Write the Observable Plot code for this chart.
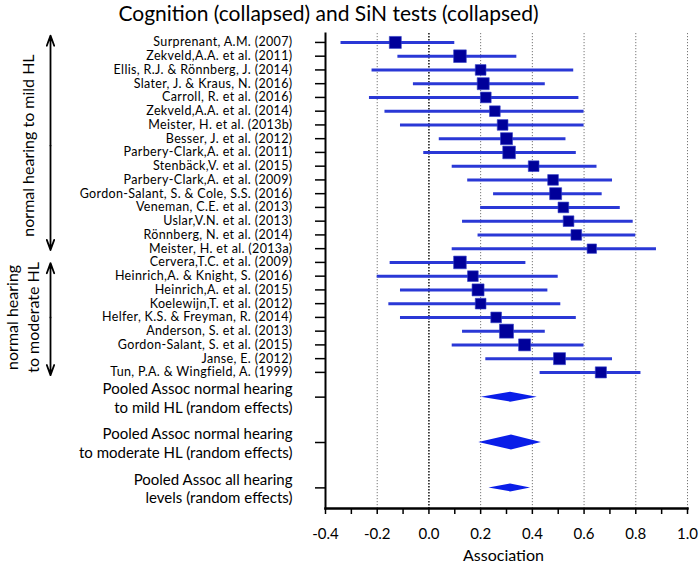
<!DOCTYPE html>
<html>
<head>
<meta charset="utf-8">
<script src="https://cdn.jsdelivr.net/npm/d3@7"></script>
<script src="https://cdn.jsdelivr.net/npm/@observablehq/plot@0.6"></script>
<style>
  html, body { margin: 0; padding: 0; background: #fff; }
  #chart svg { display: block; }
</style>
</head>
<body>
<div id="chart"></div>
<script>
// ---- data ----
const title = "Cognition (collapsed) and SiN tests (collapsed)";
const studies = [
  "Surprenant, A.M. (2007)",
  "Zekveld,A.A. et al. (2011)",
  "Ellis, R.J. & Rönnberg, J. (2014)",
  "Slater, J. & Kraus, N. (2016)",
  "Carroll, R. et al. (2016)",
  "Zekveld,A.A. et al. (2014)",
  "Meister, H. et al. (2013b)",
  "Besser, J. et al. (2012)",
  "Parbery-Clark,A. et al. (2011)",
  "Stenbäck,V. et al. (2015)",
  "Parbery-Clark,A. et al. (2009)",
  "Gordon-Salant, S. & Cole, S.S. (2016)",
  "Veneman, C.E. et al. (2013)",
  "Uslar,V.N. et al. (2013)",
  "Rönnberg, N. et al. (2014)",
  "Meister, H. et al. (2013a)",
  "Cervera,T.C. et al. (2009)",
  "Heinrich,A. & Knight, S. (2016)",
  "Heinrich,A. et al. (2015)",
  "Koelewijn,T. et al. (2012)",
  "Helfer, K.S. & Freyman, R. (2014)",
  "Anderson, S. et al. (2013)",
  "Gordon-Salant, S. et al. (2015)",
  "Janse, E. (2012)",
  "Tun, P.A. & Wingfield, A. (1999)"
];
const estimates = [-0.13, 0.12, 0.20, 0.21, 0.22, 0.255, 0.285, 0.30, 0.31, 0.405, 0.48, 0.49, 0.52, 0.54, 0.57, 0.63,
                   0.12, 0.17, 0.19, 0.20, 0.26, 0.30, 0.37, 0.505, 0.665];
const lower =     [-0.34, -0.12, -0.22, -0.06, -0.23, -0.17, -0.11, 0.04, -0.02, 0.09, 0.15, 0.25, 0.20, 0.13, 0.19, 0.09,
                   -0.15, -0.20, -0.11, -0.155, -0.11, 0.13, 0.09, 0.22, 0.43];
const upper =     [0.10, 0.34, 0.56, 0.45, 0.58, 0.60, 0.60, 0.53, 0.57, 0.65, 0.71, 0.67, 0.74, 0.79, 0.80, 0.88,
                   0.375, 0.50, 0.46, 0.51, 0.57, 0.45, 0.60, 0.71, 0.82];
const weights =   [4.4, 4.9, 3.5, 4.4, 3.5, 3.5, 3.5, 4.4, 4.9, 3.5, 3.5, 4.4, 3.5, 3.5, 3.5, 2.7,
                   4.9, 3.5, 4.4, 3.5, 3.5, 6.0, 4.4, 4.4, 3.8];
const groupLabels = ["normal hearing to mild HL", "normal hearing\nto moderate HL"];
const groupSizes = [16, 9];
const pooledLabels = [
  "Pooled Assoc normal hearing\nto mild HL (random effects)",
  "Pooled Assoc normal hearing\nto moderate HL (random effects)",
  "Pooled Assoc all hearing\nlevels (random effects)"
];
const pooledEst = [0.316, 0.319, 0.316];
const pooledLo = [0.202, 0.193, 0.232];
const pooledHi = [0.419, 0.435, 0.393];
const xTicks = [-0.4, -0.3, -0.2, -0.1, 0.0, 0.1, 0.2, 0.3, 0.4, 0.5, 0.6, 0.7, 0.8, 0.9, 1.0];
const xLabel = "Association";

// ---- layout ----
const W = 699, H = 564;
const mt = 33, mb = 56, ml = 325, mr = 12;
const yDomain = [-0.65, 33.9];
const pxPerRow = (H - mt - mb) / (yDomain[1] - yDomain[0]);
const pooledStart = 25.8, pooledGap = 3.3;
const diamondHalfPx = [5, 7.5, 4];
const groupTextDx = [-297, -303.5];
const xMin = -0.4;

const rows = studies.map((s, i) => ({label: s, y: i, est: estimates[i], lo: lower[i], hi: upper[i], w: weights[i]}));
const pooled = pooledLabels.map((s, k) => ({label: s, y: pooledStart + pooledGap * k, est: pooledEst[k], lo: pooledLo[k], hi: pooledHi[k], hh: diamondHalfPx[k] / pxPerRow, k}));
const diamondPts = pooled.flatMap(p => [
  {k: p.k, x: p.lo, y1: p.y, y2: p.y},
  {k: p.k, x: p.est, y1: p.y - p.hh, y2: p.y + p.hh},
  {k: p.k, x: p.hi, y1: p.y, y2: p.y}
]);
let start = 0;
const groups = groupLabels.map((g, j) => {
  const first = start, last = start + groupSizes[j] - 1;
  start += groupSizes[j];
  const pad = j === 0 ? [-0.5, 0.1] : [0.05, 0.2];
  return {label: g, mid: (first + last) / 2, from: first + pad[0], to: last + pad[1], j};
});
const arrows = groups.flatMap(g => [
  {y1: g.mid, y2: g.from},
  {y1: g.mid, y2: g.to}
]);
const labelByY = new Map(rows.map(r => [r.y, r.label]));
const pooledByY = new Map(pooled.map(p => [p.y, p.label]));

const chart = Plot.plot({
  width: W, height: H,
  marginTop: mt, marginBottom: mb, marginLeft: ml, marginRight: mr,
  style: {fontFamily: "Lato, sans-serif", fontSize: "13px", color: "#000", background: "#fff"},
  x: {domain: [-0.4, 1.0], axis: null},
  y: {domain: yDomain, reverse: true, axis: null},
  r: {type: "sqrt", domain: [0, 6], range: [0, 7.9]},
  marks: [
    Plot.ruleX([-0.2, 0.2, 0.4, 0.6, 0.8, 1.0], {stroke: "#777", strokeWidth: 1, strokeDasharray: "1.2,1.8"}),
    Plot.ruleX([0], {stroke: "#000", strokeWidth: 1.4, strokeDasharray: "1.5,1.5"}),
    Plot.ruleY(rows, {y: "y", x1: "lo", x2: "hi", stroke: "#2a38d6", strokeWidth: 3}),
    Plot.dot(rows, {x: "est", y: "y", r: "w", symbol: "square", fill: "#00009a", stroke: "#3340c8", strokeWidth: 0.6}),
    Plot.areaY(diamondPts, {x: "x", y1: "y1", y2: "y2", z: "k", fill: "#0a1ee8"}),
    Plot.frame({anchor: "left", stroke: "#000", strokeWidth: 2}),
    Plot.frame({anchor: "bottom", stroke: "#000", strokeWidth: 2.5}),
    Plot.axisY(rows.map(r => r.y), {tickFormat: d => labelByY.get(d), tickSize: 10, tickPadding: 23, fontSize: 12.5, strokeWidth: 1.5}),
    Plot.axisY(pooled.map(p => p.y), {tickFormat: d => pooledByY.get(d), tickSize: 10, tickPadding: 23, fontSize: 15, lineHeight: 1.25, strokeWidth: 1.5}),
    Plot.axisX(xTicks, {tickFormat: d => (Math.round(d * 10) % 2 === 0 ? d.toFixed(1) : ""), tickSize: 6, tickPadding: 14, fontSize: 15, strokeWidth: 1.5, label: null}),
    Plot.text([xLabel], {text: d => d, frameAnchor: "bottom", dx: -3, dy: 47, fontSize: 16, lineAnchor: "middle"}),
    Plot.text([title], {text: d => d, frameAnchor: "top-left", dx: 3, dy: -19.5, fontSize: 21, textAnchor: "middle", lineAnchor: "middle"}),
    Plot.arrow(arrows, {x1: () => xMin, x2: () => xMin, y1: "y1", y2: "y2", dx: -275, stroke: "#000", strokeWidth: 1.8, headLength: 9, headAngle: 40}),
    Plot.text(groups.filter(g => g.j === 0), {x: () => xMin, y: "mid", text: "label", dx: groupTextDx[0], rotate: -90, fontSize: 16, lineAnchor: "middle", textAnchor: "middle"}),
    Plot.text(groups.filter(g => g.j === 1), {x: () => xMin, y: "mid", text: "label", dx: groupTextDx[1], rotate: -90, fontSize: 16, lineAnchor: "middle", textAnchor: "middle", lineHeight: 1.3})
  ]
});
// widen the study labels slightly to match the reference's wider typeface
const tickLabelGroups = d3.select(chart).selectAll('g[aria-label="y-axis tick label"]').nodes();
if (tickLabelGroups.length) tickLabelGroups[0].style.letterSpacing = "0.35px";
document.getElementById("chart").appendChild(chart);
</script>
</body>
</html>
